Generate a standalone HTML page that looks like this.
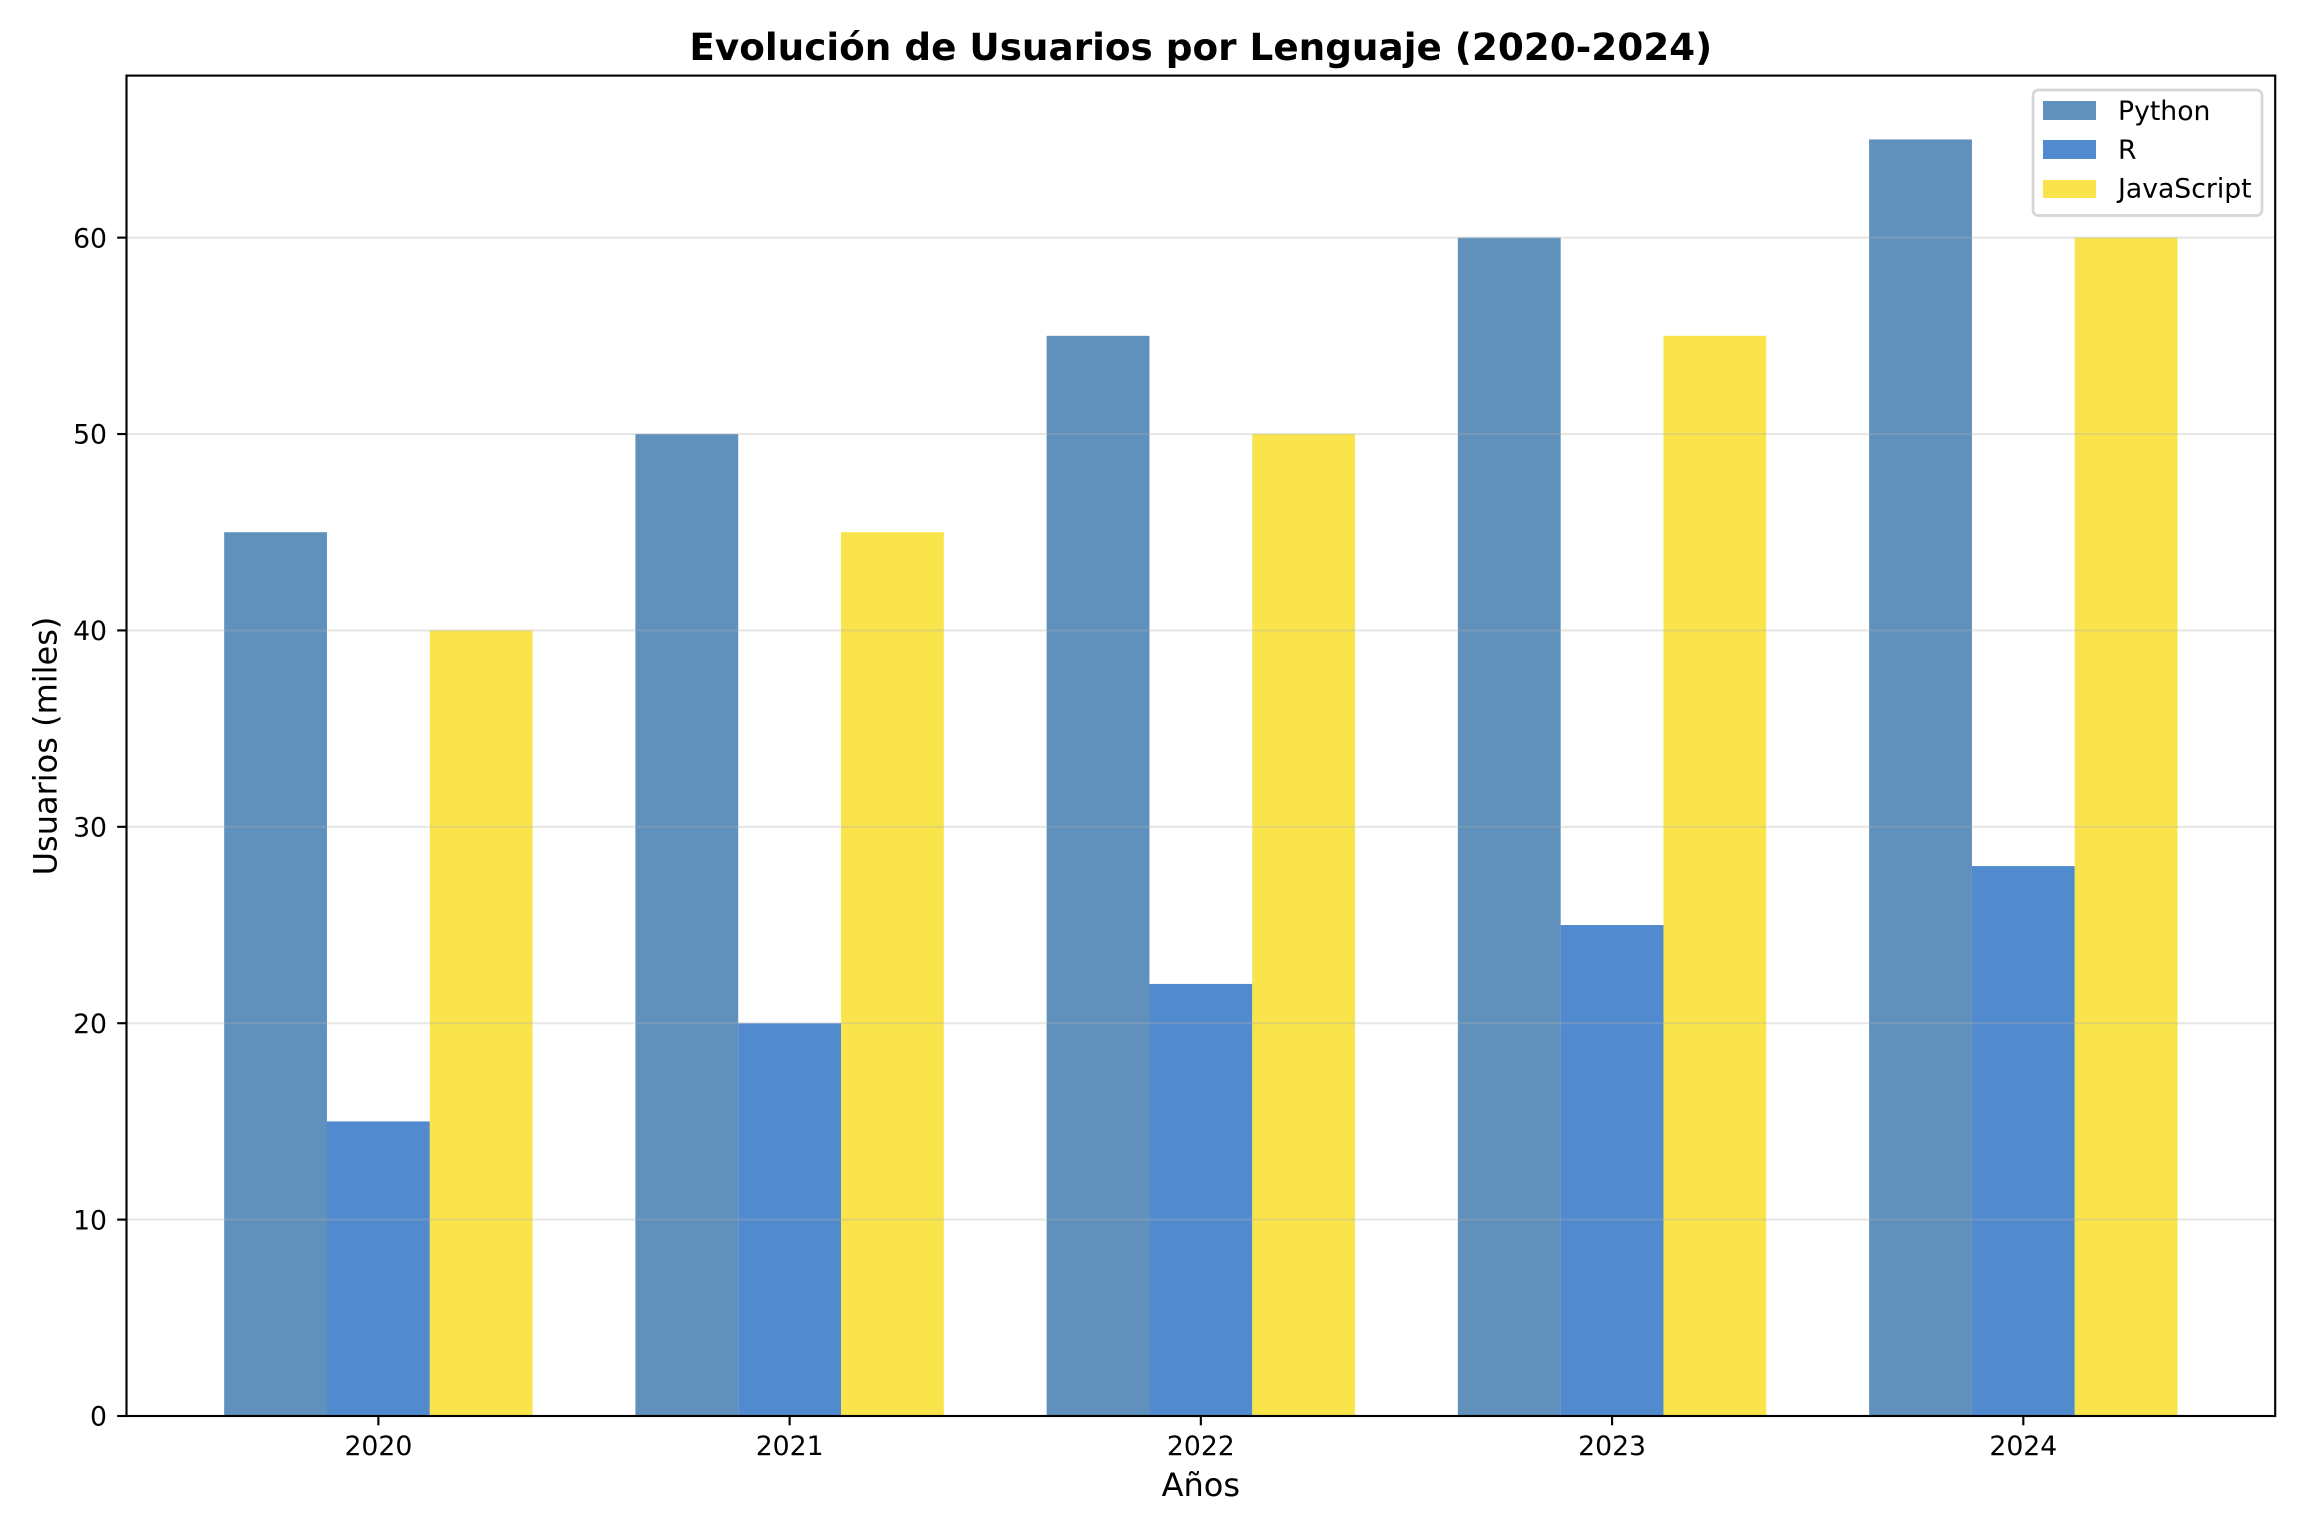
<!DOCTYPE html>
<html lang="es">
<head>
<meta charset="utf-8">
<title>Evolución de Usuarios por Lenguaje (2020-2024)</title>
<style>
  html, body { margin: 0; padding: 0; background: #fff; }
  svg { display: block; }
  text { font-family: "DejaVu Sans", "Liberation Sans", sans-serif; fill: #000; }
</style>
</head>
<body>
<svg id="chart" xmlns="http://www.w3.org/2000/svg" width="2304" height="1536" viewBox="0 0 2304 1536">
  <rect x="0" y="0" width="2304" height="1536" fill="#ffffff"></rect>
  <g id="bars"></g>
  <g id="grid"></g>
  <g id="xticks"></g>
  <g id="yticks"></g>
  <rect x="126.5" y="75.6" width="2148.7" height="1340.4" fill="none" stroke="#000" stroke-width="2.13"></rect>
  <text x="1200.8" y="60" text-anchor="middle" font-size="37.33" font-weight="700">Evolución de Usuarios por Lenguaje (2020-2024)</text>
  <text x="1200.8" y="1496" text-anchor="middle" font-size="32">Años</text>
  <text transform="translate(56.5 746) rotate(-90)" x="0" y="0" text-anchor="middle" font-size="32">Usuarios (miles)</text>
  <g>
    <rect x="2033" y="90" width="229" height="125.5" rx="5.33" ry="5.33" fill="#ffffff" fill-opacity="0.8" stroke="#cccccc" stroke-opacity="0.8" stroke-width="2.67"></rect>
    <rect x="2043" y="101" width="53" height="19" fill="#3776ab" fill-opacity="0.8"></rect>
    <text x="2118" y="120" font-size="26.67">Python</text>
    <rect x="2043" y="140" width="53" height="19" fill="#276dc3" fill-opacity="0.8"></rect>
    <text x="2118" y="159" font-size="26.67">R</text>
    <rect x="2043" y="180" width="53" height="18" fill="#f7df1e" fill-opacity="0.8"></rect>
    <text x="2118" y="197.6" font-size="26.67">JavaScript</text>
  </g>
</svg>
<script>
const categories = ["2020", "2021", "2022", "2023", "2024"];
const pythonUsers = [45, 50, 55, 60, 65];
const rUsers = [15, 20, 22, 25, 28];
const javascriptUsers = [40, 45, 50, 55, 60];
const yTickLabels = [0, 10, 20, 30, 40, 50, 60];

const NS = "http://www.w3.org/2000/svg";
const plotLeft = 126.5;
const plotRight = 2275.2;
const plotTop = 75.6;
const plotBottom = 1416;
const barWidthUnits = 0.25;

const yMax = Math.max(...pythonUsers, ...rUsers, ...javascriptUsers) * 1.05;
const xSpanLow = -barWidthUnits * 1.5;
const xSpanHigh = categories.length - 1 + barWidthUnits * 1.5;
const xMargin = (xSpanHigh - xSpanLow) * 0.05;

function xScale(v) {
  const low = xSpanLow - xMargin;
  const high = xSpanHigh + xMargin;
  return plotLeft + (v - low) / (high - low) * (plotRight - plotLeft);
}
function yScale(v) {
  return plotBottom - v / yMax * (plotBottom - plotTop);
}
function make(tag, parentId) {
  const el = document.createElementNS(NS, tag);
  document.getElementById(parentId).appendChild(el);
  return el;
}
function drawSeries(values, color, offset, key) {
  values.forEach(function (value, i) {
    const x0 = xScale(i + offset - barWidthUnits / 2);
    const x1 = xScale(i + offset + barWidthUnits / 2);
    const y = yScale(value);
    const bar = make("rect", "bars");
    bar.setAttribute("x", x0);
    bar.setAttribute("y", y);
    bar.setAttribute("width", x1 - x0);
    bar.setAttribute("height", plotBottom - y);
    bar.setAttribute("fill", color);
    bar.setAttribute("fill-opacity", "0.8");
    
    
  });
}
drawSeries(pythonUsers, "#3776ab", -barWidthUnits, "python");
drawSeries(rUsers, "#276dc3", 0, "r");
drawSeries(javascriptUsers, "#f7df1e", barWidthUnits, "javascript");

yTickLabels.forEach(function (tick) {
  const y = yScale(tick);
  if (tick !== 0) {
    const gridLine = make("line", "grid");
    gridLine.setAttribute("x1", plotLeft);
    gridLine.setAttribute("x2", plotRight);
    gridLine.setAttribute("y1", y);
    gridLine.setAttribute("y2", y);
    gridLine.setAttribute("stroke", "#b0b0b0");
    gridLine.setAttribute("stroke-opacity", "0.3");
    gridLine.setAttribute("stroke-width", "2.13");
    
    
  }
  const mark = make("line", "yticks");
  mark.setAttribute("x1", plotLeft - 9.33);
  mark.setAttribute("x2", plotLeft);
  mark.setAttribute("y1", y);
  mark.setAttribute("y2", y);
  mark.setAttribute("stroke", "#000");
  mark.setAttribute("stroke-width", "2.13");
  
  
  const label = make("text", "yticks");
  label.setAttribute("x", 107);
  label.setAttribute("y", y + 9.7);
  label.setAttribute("text-anchor", "end");
  label.setAttribute("font-size", "26.67");
  label.textContent = String(tick);
  
  
});

categories.forEach(function (category, i) {
  const x = xScale(i);
  const mark = make("line", "xticks");
  mark.setAttribute("x1", x);
  mark.setAttribute("x2", x);
  mark.setAttribute("y1", plotBottom);
  mark.setAttribute("y2", plotBottom + 9.33);
  mark.setAttribute("stroke", "#000");
  mark.setAttribute("stroke-width", "2.13");
  
  
  const label = make("text", "xticks");
  label.setAttribute("x", x);
  label.setAttribute("y", 1455);
  label.setAttribute("text-anchor", "middle");
  label.setAttribute("font-size", "26.67");
  label.textContent = category;
  
  
});
</script>
</body>
</html>
